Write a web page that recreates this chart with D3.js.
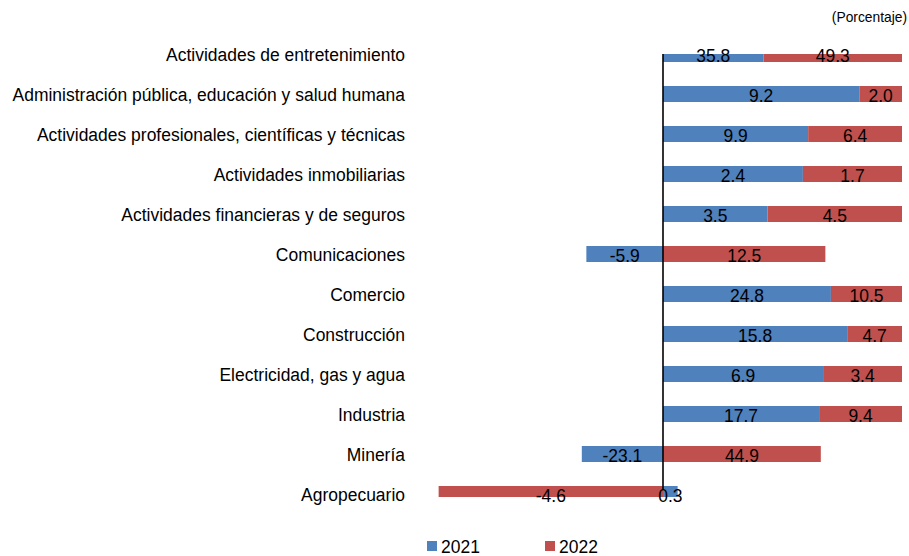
<!DOCTYPE html>
<html><head><meta charset="utf-8">
<script src="https://cdn.jsdelivr.net/npm/d3@7"></script>
<style>
body{margin:0;background:#fff;}
text{font-family:"Liberation Sans",Arial,sans-serif;fill:#000;}
</style></head>
<body><svg id="c" width="909" height="556"></svg>
<script>
const categories = ["Actividades de entretenimiento","Administración pública, educación y salud humana","Actividades profesionales, científicas y técnicas","Actividades inmobiliarias","Actividades financieras y de seguros","Comunicaciones","Comercio","Construcción","Electricidad, gas y agua","Industria","Minería","Agropecuario"];
const values2021 = [35.8, 9.2, 9.9, 2.4, 3.5, -5.9, 24.8, 15.8, 6.9, 17.7, -23.1, 0.3];
const values2022 = [49.3, 2.0, 6.4, 1.7, 4.5, 12.5, 10.5, 4.7, 3.4, 9.4, 44.9, -4.6];
const seriesNames = ["2021","2022"];
const colors = ["#4F81BD","#C0504D"];
const unitLabel = "(Porcentaje)";

const SX = 0.92;
const svg = d3.select("#c");
const plotTop = 54, plotBottom = 497;
const x = d3.scaleLinear().domain([-100, 100]).range([424, 902]);
const y = d3.scaleBand().domain(categories).range([34, 514]).paddingInner(0.6).paddingOuter(0.3);
const fmt = v => v.toFixed(1);

// compute 100% stacked segments
const segs = [];
categories.forEach((c, i) => {
  const vals = [values2021[i], values2022[i]];
  const tot = d3.sum(vals, v => Math.abs(v));
  let pos = 0, neg = 0;
  vals.forEach((v, s) => {
    const share = Math.abs(v) / tot * 100;
    let x0, x1;
    if (v >= 0) { x0 = pos; x1 = pos + share; pos = x1; }
    else { x0 = neg - share; x1 = neg; neg = x0; }
    segs.push({cat: c, s, v, x0, x1});
  });
});

svg.append("defs").append("clipPath").attr("id","clip")
  .append("rect").attr("x",0).attr("y",plotTop).attr("width",909).attr("height",plotBottom-plotTop);

const cy = d => y(d) + y.bandwidth()/2;
const g = svg.append("g").attr("clip-path","url(#clip)");
g.selectAll("rect.bar").data(segs).join("rect")
  .attr("class","bar")
  .attr("x", d => x(d.x0))
  .attr("width", d => x(d.x1) - x(d.x0))
  .attr("y", d => cy(d.cat) - 8)
  .attr("height", 16)
  .attr("fill", d => colors[d.s]);

// axis line at zero
svg.append("line").attr("x1", x(0)).attr("x2", x(0)).attr("y1", plotTop).attr("y2", 490)
  .attr("stroke","#000").attr("stroke-width",1.6);

function place(sel, fx, fy) {
  sel.attr("transform", d => `translate(${fx(d)},${fy(d)}) scale(${SX},1)`);
}

// data labels
svg.selectAll("text.lbl").data(segs).join("text")
  .attr("class","lbl")
  .attr("text-anchor","middle")
  .style("font-size","19px")
  .text(d => fmt(d.v))
  .call(place, d => (x(d.x0) + x(d.x1)) / 2, d => cy(d.cat) + 8);

// category labels
svg.selectAll("text.cat").data(categories).join("text")
  .attr("class","cat")
  .attr("text-anchor","end")
  .style("font-size","19px")
  .text(d => d)
  .call(place, () => 405, d => cy(d) + 7);

// unit label
svg.append("text").datum(unitLabel).attr("text-anchor","end")
  .style("font-size","15px").text(unitLabel)
  .call(place, () => 907, () => 22);

// legend
const legX = [427, 545];
seriesNames.forEach((n, i) => {
  svg.append("rect").attr("x", legX[i]).attr("y", 541).attr("width", 10).attr("height", 10).attr("fill", colors[i]);
  svg.append("text").datum(n).style("font-size","19px").text(n)
    .call(place, () => legX[i] + 14, () => 553);
});
</script></body></html>
